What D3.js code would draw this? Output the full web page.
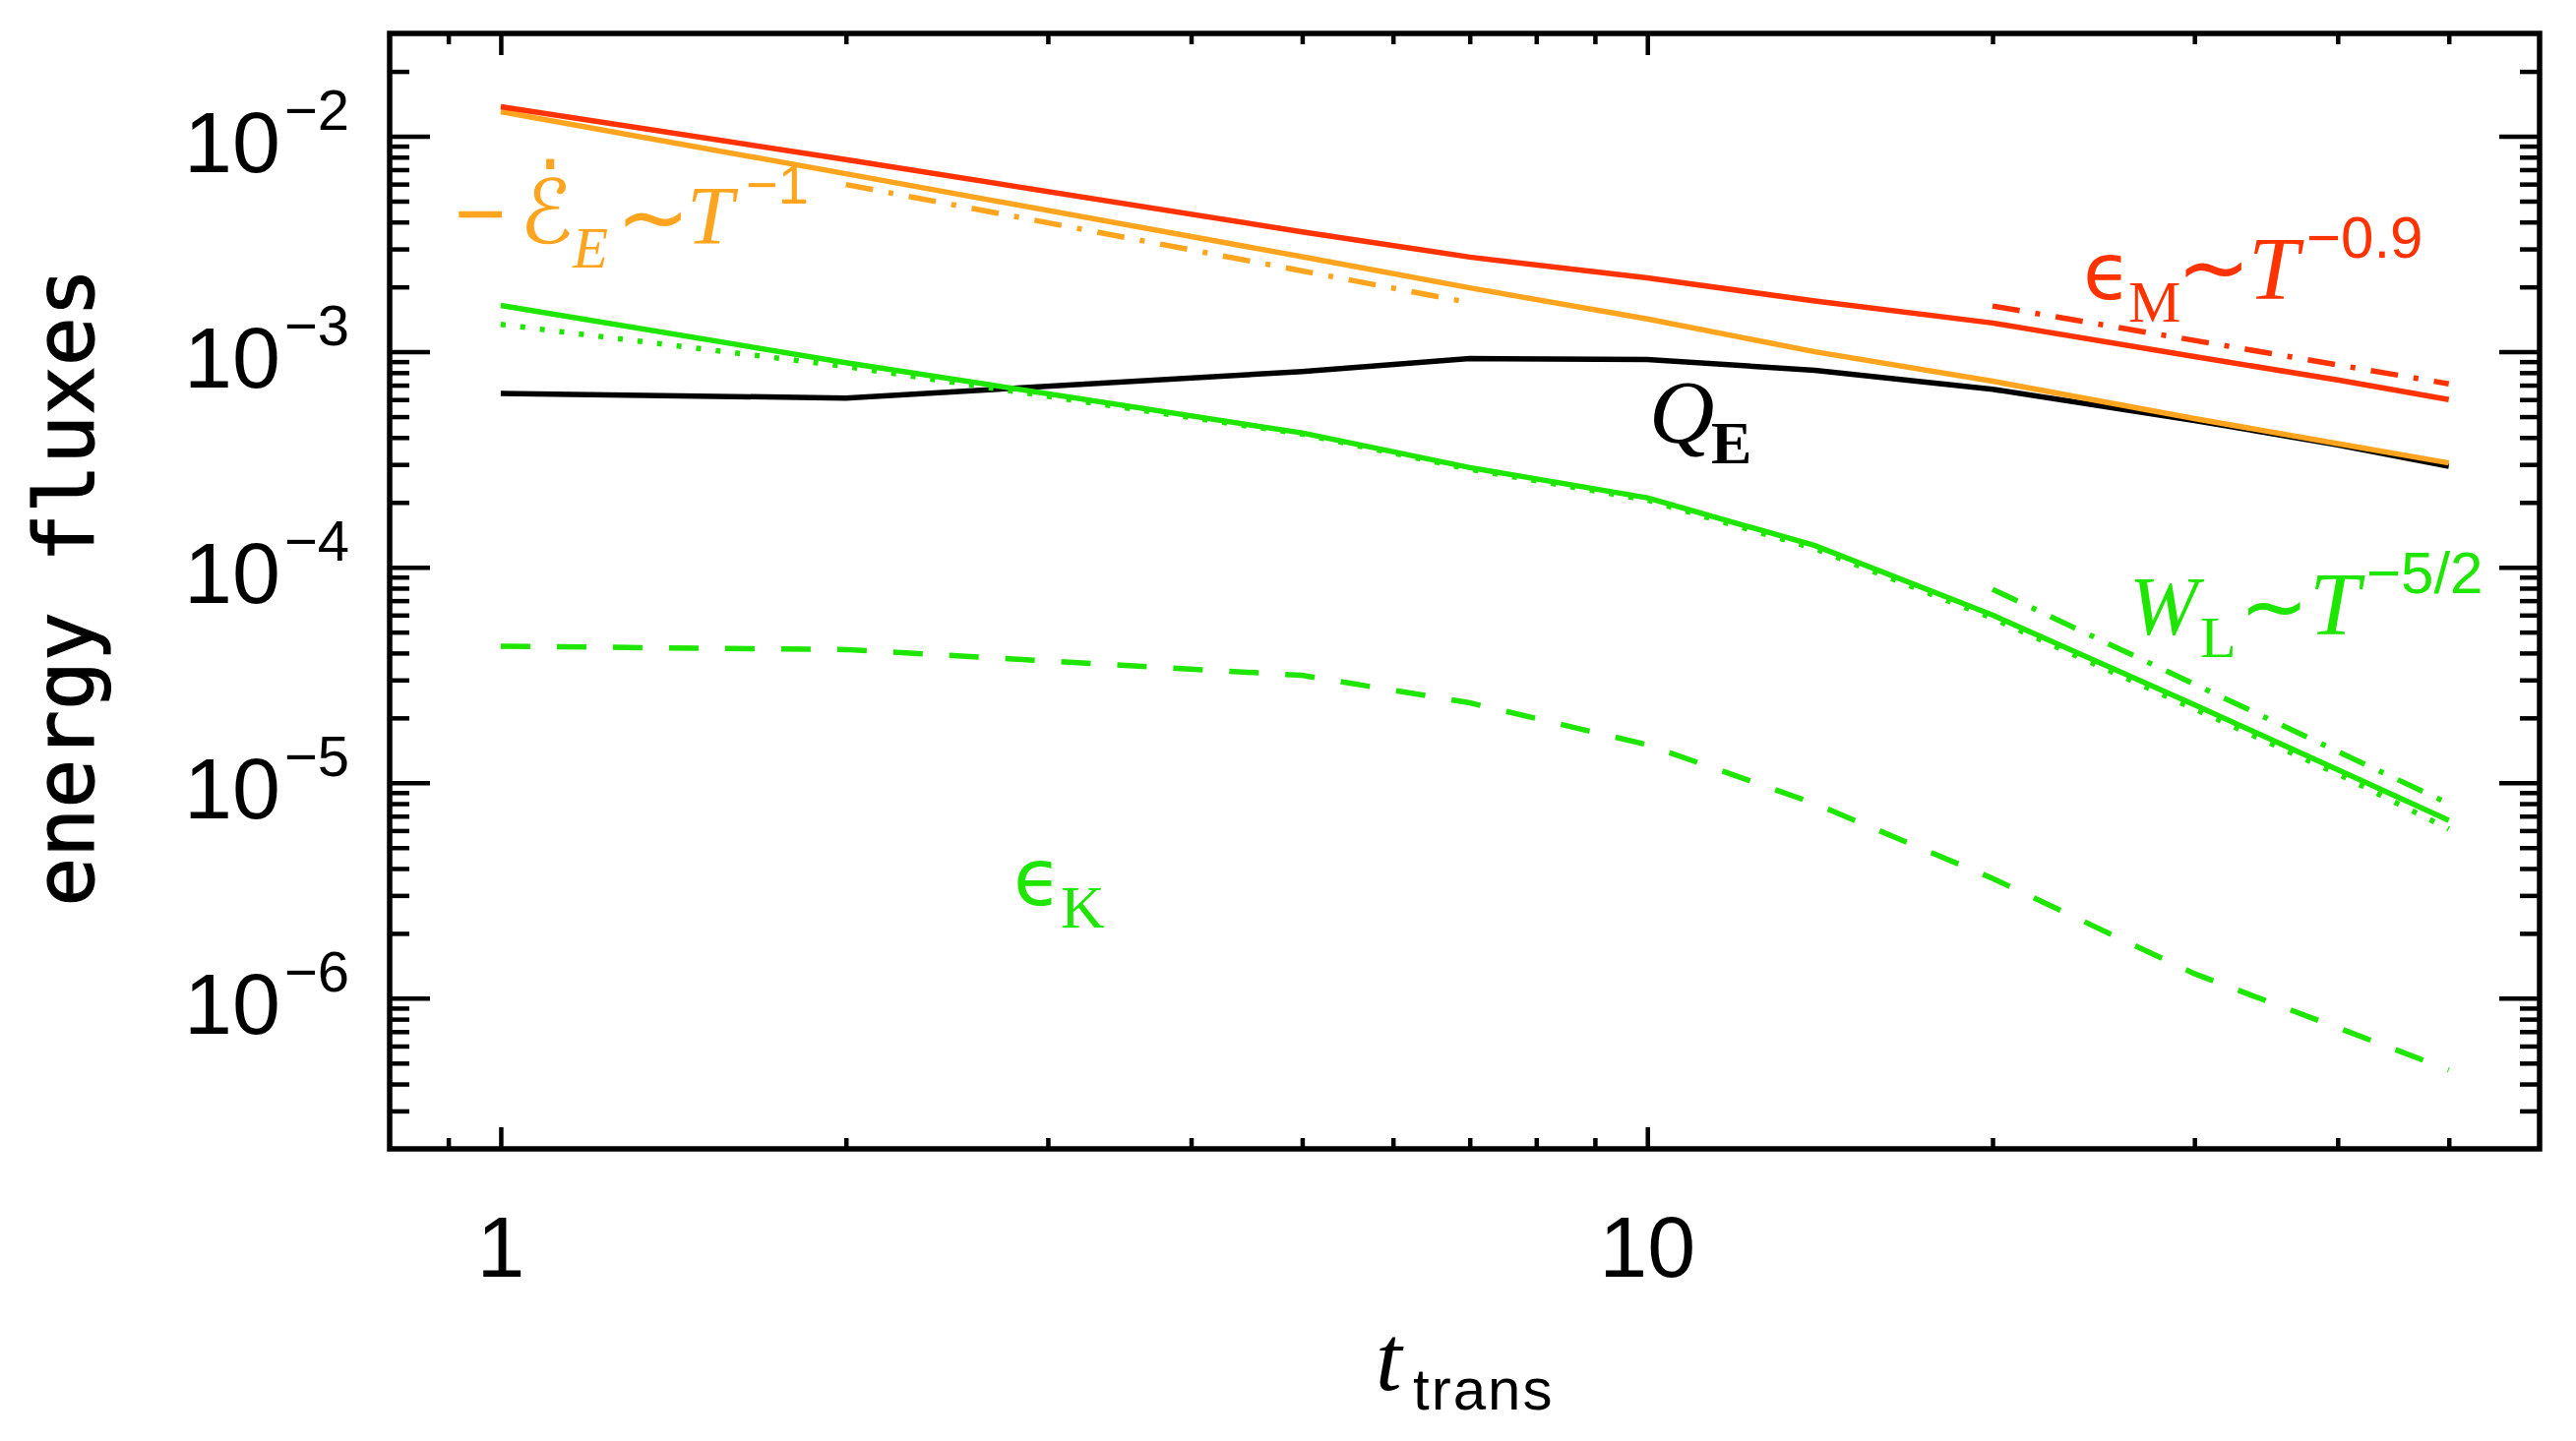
<!DOCTYPE html>
<html lang="en">
<head>
  <meta charset="UTF-8">
  <title>Energy fluxes vs t_trans</title>
  <script src="https://d3js.org/d3.v7.min.js"></script>
  <style>
    body { margin: 0; background: #fff; }
  </style>
</head>
<body>
<script>
  // sample times (t_trans) and the fluxes
  const times = [1, 2, 5, 7, 10, 14, 20, 30, 40, 50];
  const epsM  = [1.37e-2, 7.8e-3, 3.6e-3, 2.75e-3, 2.2e-3, 1.72e-3, 1.36e-3, 9.5e-4, 7.4e-4, 6.0e-4];
  const dEdt  = [1.30e-2, 6.7e-3, 2.76e-3, 1.98e-3, 1.42e-3, 1.0e-3, 7.3e-4, 4.9e-4, 3.75e-4, 3.05e-4];
  const QE    = [6.4e-4, 6.1e-4, 8.1e-4, 9.3e-4, 9.2e-4, 8.2e-4, 6.7e-4, 4.8e-4, 3.7e-4, 2.94e-4];
  const WL    = [1.64e-3, 8.9e-4, 4.2e-4, 2.9e-4, 2.1e-4, 1.26e-4, 6.0e-5, 2.3e-5, 1.15e-5, 6.7e-6];
  const WLdot = [1.34e-3, 8.55e-4, 4.15e-4, 2.85e-4, 2.05e-4, 1.22e-4, 5.8e-5, 2.2e-5, 1.1e-5, 6.1e-6];
  const epsK  = [4.3e-5, 4.15e-5, 3.15e-5, 2.35e-5, 1.5e-5, 8.0e-6, 3.6e-6, 1.3e-6, 7.3e-7, 4.65e-7];

  // power-law guide lines (end points)
  const fitE_t = [2, 7],   fitE = [5.97e-3, 1.69e-3];   // ~T^-1
  const fitM_t = [20, 50], fitM = [1.63e-3, 7.1e-4];    // ~T^-0.9
  const fitW_t = [20, 50], fitW = [7.9e-5, 8.0e-6];     // ~T^-5/2

  // axis ticks
  const xMajor = [1, 10];
  const xMinor = [0.9, 2, 3, 4, 5, 6, 7, 8, 9, 20, 30, 40, 50];
  const yMajor = [1e-6, 1e-5, 1e-4, 1e-3, 1e-2];
  const yExp = ["−6", "−5", "−4", "−3", "−2"];

  const W = 2618, H = 1465;
  const mLeft = 396, mRight = 2581, mTop = 34, mBottom = 1168;

  const red = "#ff3200", orange = "#ffa41e", green = "#1ee600";

  const svg = d3.select("body").append("svg")
    .attr("width", W).attr("height", H);

  const x = d3.scaleLog().domain([0.8, 60]).range([mLeft, mRight]);
  const y = d3.scaleLog().domain([2e-7, 3e-2]).range([mBottom, mTop]);

  const yMinor = [];
  yMajor.concat([1e-7]).forEach(d => {
    for (let k = 2; k <= 9; k++) {
      const v = d * k;
      if (v > 2e-7 && v < 3e-2) yMinor.push(v);
    }
  });

  // ticks on all four sides, pointing inward
  function ticks(gen, tr, values, size) {
    svg.append("g")
      .attr("transform", tr)
      .call(gen.tickValues(values).tickSize(size).tickFormat(""))
      .call(g => g.select(".domain").remove())
      .selectAll("line").attr("stroke", "#000").attr("stroke-width", 4.5);
  }
  ticks(d3.axisTop(x), "translate(0," + mBottom + ")", xMajor, 22);
  ticks(d3.axisTop(x), "translate(0," + mBottom + ")", xMinor, 11);
  ticks(d3.axisBottom(x), "translate(0," + mTop + ")", xMajor, 22);
  ticks(d3.axisBottom(x), "translate(0," + mTop + ")", xMinor, 11);
  ticks(d3.axisRight(y), "translate(" + mLeft + ",0)", yMajor, 41);
  ticks(d3.axisRight(y), "translate(" + mLeft + ",0)", yMinor, 20);
  ticks(d3.axisLeft(y), "translate(" + mRight + ",0)", yMajor, 41);
  ticks(d3.axisLeft(y), "translate(" + mRight + ",0)", yMinor, 20);

  // data lines
  const line = d3.line().x(d => x(d[0])).y(d => y(d[1]));
  const series = [
    { t: times, v: QE, color: "#000", dash: null },
    { t: times, v: epsK, color: green, dash: "30,27" },
    { t: times, v: WLdot, color: green, dash: "5,15" },
    { t: times, v: WL, color: green, dash: null },
    { t: times, v: dEdt, color: orange, dash: null },
    { t: times, v: epsM, color: red, dash: null },
    { t: fitE_t, v: fitE, color: orange, dash: "28,16,5,16" },
    { t: fitM_t, v: fitM, color: red, dash: "28,16,5,16" },
    { t: fitW_t, v: fitW, color: green, dash: "28,16,5,16" }
  ];
  series.forEach(s => {
    svg.append("path")
      .datum(s.t.map((t, i) => [t, s.v[i]]))
      .attr("d", line)
      .attr("fill", "none")
      .attr("stroke", s.color)
      .attr("stroke-width", 5.5)
      .attr("stroke-dasharray", s.dash);
  });

  // frame
  svg.append("rect")
    .attr("x", mLeft).attr("y", mTop)
    .attr("width", mRight - mLeft).attr("height", mBottom - mTop)
    .attr("fill", "none").attr("stroke", "#000").attr("stroke-width", 5.5);

  const sans = "'Liberation Sans', Arial, sans-serif";
  const serif = "'Liberation Serif', 'Times New Roman', serif";
  const dv = "'DejaVu Sans', sans-serif";

  // one text element per label, pieces placed as tspans
  // piece: [string, x, y, size, family, italic, bold]
  function label(pieces, color, anchor) {
    const t = svg.append("text").attr("fill", color)
      .attr("text-anchor", anchor || "start");
    pieces.forEach(p => {
      t.append("tspan")
        .attr("x", p[1]).attr("y", p[2])
        .attr("font-size", p[3])
        .attr("font-family", p[4])
        .attr("font-style", p[5] ? "italic" : "normal")
        .attr("font-weight", p[6] ? "bold" : "normal")
        .text(p[0]);
    });
    return t;
  }

  // y tick labels 10^k
  yMajor.forEach((d, i) => {
    label([["10", 187, y(d) + 36, 88, sans], [yExp[i], 289, y(d) - 7, 58, sans]], "#000");
  });

  // x tick labels
  xMajor.forEach(d => {
    label([[String(d), x(d), 1298, 88, sans]], "#000", "middle");
  });

  // axis titles
  label([["t", 1398, 1413, 96, serif, true], ["trans", 1436, 1433, 60, sans]], "#000")
    .attr("letter-spacing", 2);
  svg.append("text")
    .attr("transform", "translate(95,597) rotate(-90)")
    .attr("font-size", 83)
    .attr("font-family", "'DejaVu Sans Mono', monospace")
    .attr("text-anchor", "middle")
    .attr("fill", "#000")
    .attr("stroke", "#000").attr("stroke-width", 1.2)
    .text("energy fluxes");

  // orange label: -dE/dt ~ T^-1
  label([
    ["−", 462, 248, 90, sans],
    ["ℰ\u0307", 528, 247, 90, dv],
    ["E", 582, 272, 59, serif, true],
    ["~", 626, 252, 90, dv],
    ["T", 698, 248, 85, serif, true],
    ["−1", 758, 207, 56, sans]
  ], orange);

  // red label: eps_M ~ T^-0.9
  label([
    ["ϵ", 2117, 304, 80, dv],
    ["M", 2163, 327, 60, serif],
    ["~", 2212, 303, 90, dv],
    ["T", 2285, 304, 92, serif, true],
    ["−0.9", 2344, 262, 60, sans]
  ], red);

  // green label: W_L ~ T^-5/2
  label([
    ["W", 2164, 645, 84, serif, true],
    ["L", 2236, 668, 60, serif],
    ["~", 2276, 645, 84, dv],
    ["T", 2347, 645, 92, serif, true],
    ["−5/2", 2405, 603, 60, sans]
  ], green);

  // Q_E
  label([["Q", 1676, 450, 92, serif, true], ["E", 1739, 471, 62, serif, false, true]], "#000");

  // eps_K
  label([["ϵ", 1030, 920, 80, dv], ["K", 1078, 943, 62, serif]], green);
</script>
</body>
</html>
